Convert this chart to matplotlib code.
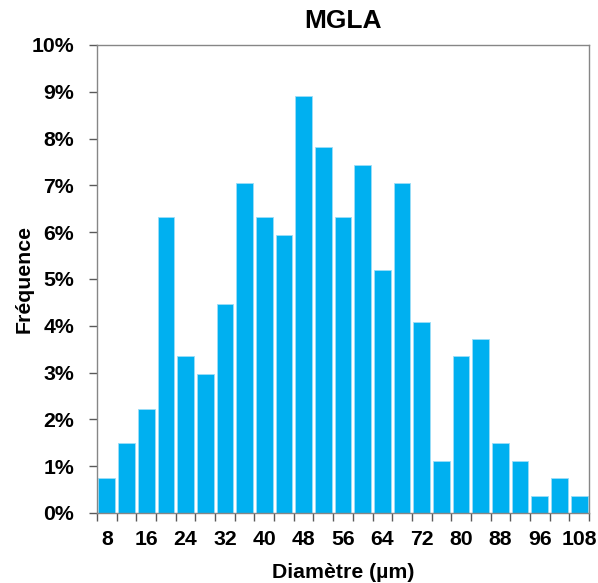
import matplotlib
matplotlib.use("Agg")
import matplotlib.pyplot as plt
import numpy as np

plt.rcParams['font.family'] = ['Liberation Sans', 'DejaVu Sans']

diametres = ["8", "12", "16", "20", "24", "28", "32", "36", "40", "44", "48", "52",
             "56", "60", "64", "68", "72", "76", "80", "84", "88", "92", "96", "100", "108"]
frequences = [0.74, 1.49, 2.23, 6.32, 3.35, 2.97, 4.46, 7.06, 6.32, 5.95, 8.92, 7.81,
              6.32, 7.43, 5.20, 7.06, 4.09, 1.12, 3.35, 3.72, 1.49, 1.12, 0.37, 0.74, 0.37]
y_ticks = [0, 1, 2, 3, 4, 5, 6, 7, 8, 9, 10]

fig = plt.figure(figsize=(5.98, 5.83), dpi=100)
ax = fig.add_axes([97/598, 1 - 513/583, (589 - 97)/598, (513 - 45)/583])

x = np.arange(len(diametres))
ax.bar(x, frequences, width=0.85, color='#00B0F0', edgecolor='#9CDDF7', linewidth=0.6, zorder=2)

ax.set_xlim(-0.5, len(diametres) - 0.5)
ax.set_ylim(0, 10)

spine_col = '#868686'
for s in ax.spines.values():
    s.set_color(spine_col)
    s.set_linewidth(1.0)

fs = 15.3
ax.set_yticks(y_ticks)
ax.set_yticklabels([f"{v}%" for v in y_ticks], fontsize=fs, fontweight='bold')
ax.tick_params(axis='y', direction='out', length=6, width=1, color='#595959', pad=10.5)

major = x[::2]
ax.set_xticks(major)
ax.set_xticklabels([diametres[i] for i in major], fontsize=fs, fontweight='bold')
ax.tick_params(axis='x', which='major', length=0, pad=12)
ax.set_xticks(np.arange(-0.5, len(diametres)), minor=True)
ax.tick_params(axis='x', which='minor', direction='out', length=6, width=1, color='#595959')

ax.set_title("MGLA", fontsize=19, fontweight='bold', pad=12)
ax.set_xlabel("Diamètre (µm)", fontsize=fs, fontweight='bold', labelpad=10)
ax.set_ylabel("Fréquence", fontsize=fs, fontweight='bold')
ax.yaxis.set_label_coords(-0.149, 0.5)
ax.yaxis.label.set_verticalalignment('center')

fig.savefig("out.png", dpi=100)
